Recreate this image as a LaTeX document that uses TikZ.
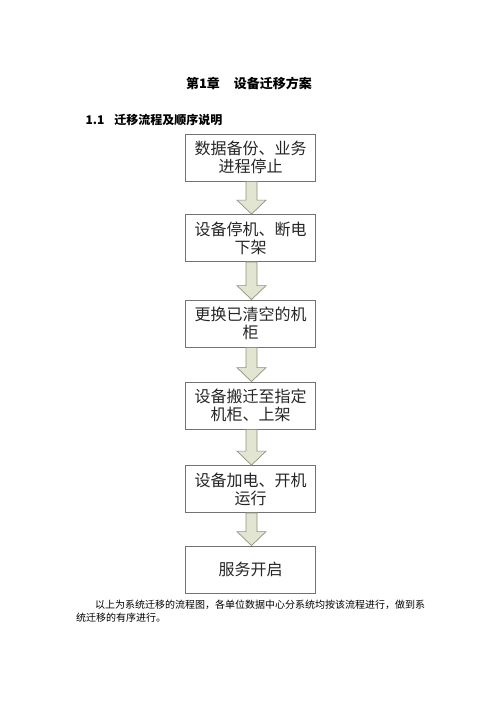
\documentclass[tikz,border=0pt]{standalone}
\usepackage{fontspec}
\newfontfamily\cjk{Noto Sans CJK SC}
\usetikzlibrary{calc}
\begin{document}
\begin{tikzpicture}[x=1pt,y=1pt,
  stepbox/.style={draw=black!55, line width=0.8pt, fill=white, minimum width=130pt, minimum height=47pt,
    align=center, inner sep=2pt, text=black!85, font=\cjk\fontsize{16}{18}\selectfont},
  fatarrow/.style={draw=arrowline, fill=arrowfill, line width=0.7pt, line join=miter}
]
\definecolor{arrowfill}{HTML}{E2E5D2}
\definecolor{arrowline}{HTML}{8E9478}
\useasboundingbox (0,0) rectangle (500,-707);
\fill[white] (0,0) rectangle (500,-707);

\node[font=\cjk\bfseries\fontsize{13}{15}\selectfont] (title) at (249,-83) {第1章\hspace{14pt}设备迁移方案};
\node[anchor=west, font=\cjk\bfseries\fontsize{12}{14}\selectfont] (sec) at (82,-120) {1.1\hspace{10pt}迁移流程及顺序说明};

\node[stepbox] (b1) at (250.5,-157.5) {数据备份、业务\\进程停止};
\node[stepbox] (b2) at (250.5,-238) {设备停机、断电\\下架};
\node[stepbox] (b3) at (250.5,-323.5) {更换已清空的机\\柜};
\node[stepbox] (b4) at (250.5,-405.5) {设备搬迁至指定\\机柜、上架};
\node[stepbox] (b5) at (250.5,-489) {设备加电、开机\\运行};
\node[stepbox] (b6) at (250.5,-569.5) {服务开启};

\foreach \a/\b in {b1/b2,b2/b3,b3/b4,b4/b5,b5/b6}{
  \draw[fatarrow] let \p1=($(\a.south)+(1,0)$), \p2=($(\b.north)+(1,0)$) in
    (\x1-5.5pt,\y1) -- (\x1+5.5pt,\y1) -- (\x1+5.5pt,\y2+14pt) -- (\x1+14.5pt,\y2+14pt)
    -- (\x2,\y2) -- (\x1-14.5pt,\y2+14pt) -- (\x1-5.5pt,\y2+14pt) -- cycle;
}

\node[anchor=west, inner sep=0pt, font=\cjk\fontsize{10}{12}\selectfont] (p1) at (95,-605)
  {以上为系统迁移的流程图，各单位数据中心分系统均按该流程进行，做到系};
\node[anchor=west, inner sep=0pt, font=\cjk\fontsize{10}{12}\selectfont] (p2) at (76,-618)
  {统迁移的有序进行。};
\end{tikzpicture}
\end{document}
